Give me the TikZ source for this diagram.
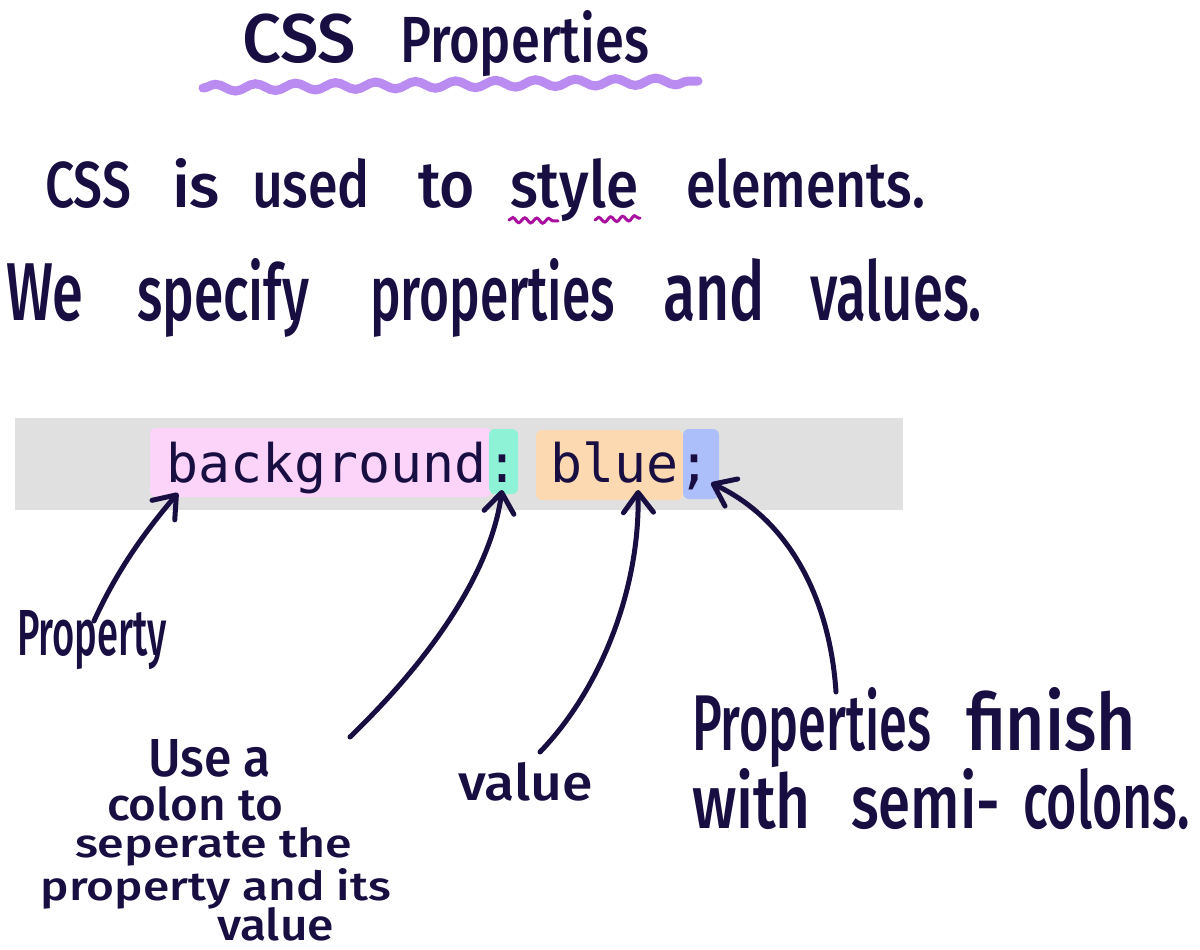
\documentclass[tikz,border=0pt]{standalone}
\usepackage{fontspec}
\usepackage{graphicx}
\setmainfont{Fira Sans}[UprightFont={* Medium}]
\newfontfamily\codefont{DejaVu Sans Mono}
\usetikzlibrary{arrows.meta,decorations.pathmorphing}
\definecolor{ink}{RGB}{24,14,66}
\definecolor{wavepurple}{RGB}{186,140,242}
\definecolor{wavemagenta}{RGB}{170,16,160}
\definecolor{bandgray}{RGB}{224,224,224}
\definecolor{hlpink}{RGB}{252,212,250}
\definecolor{hlteal}{RGB}{142,243,214}
\definecolor{hlorange}{RGB}{253,217,178}
\definecolor{hlblue}{RGB}{173,191,250}
\newcommand{\hwfit}[3]{\resizebox{#1pt}{#2pt}{#3}}
\newcommand{\hwword}[6]{\node[txt] (#1) at (#2,#3) {\hwfit{#4}{#5}{\vphantom{Cdl}#6}};}
\tikzset{
  txt/.style={anchor=base west, inner sep=0pt, outer sep=0pt, text=ink},
  arr/.style={draw=ink, line width=5pt, line cap=round, line join=round,
    -{Straight Barb[length=20pt,width=30pt,line width=5pt,line cap=round,line join=round]}},
  hl/.style={rounded corners=6pt},
  titlewave/.style={draw=wavepurple, line width=9pt, line cap=round,
    decorate, decoration={snake, amplitude=3.5pt, segment length=40pt}},
  stylewave/.style={draw=wavemagenta, line width=3pt, line cap=round,
    decorate, decoration={snake, amplitude=2.5pt, segment length=12pt}}
}
\begin{document}
\begin{tikzpicture}[x=1pt,y=-1pt]
\useasboundingbox[fill=white] (0,0) rectangle (1200,950);

% title
\hwword{tA}{242}{63}{114}{52}{CSS}
\hwword{tB}{400}{63}{249}{52}{Properties}
\coordinate (twL) at (203,88);
\coordinate (twR) at (698,81);
\draw[titlewave] (twL) -- (twR);

% intro line 1
\hwword{aA}{45}{207}{86}{49}{CSS}
\hwword{aB}{172}{207}{48}{49}{is}
\hwword{aC}{252}{207}{118}{49}{used}
\hwword{aD}{418}{207}{57}{49}{to}
\hwword{aE}{510}{207}{128}{49}{style}
\hwword{aF}{686}{207}{239}{49}{elements.}
\coordinate (swA) at (509,220);
\coordinate (swB) at (558,221);
\coordinate (swC) at (595,220);
\coordinate (swD) at (640,218);
\draw[stylewave] (swA) -- (swB);
\draw[stylewave] (swC) -- (swD);

% intro line 2
\hwword{bA}{6}{320}{77}{62}{We}
\hwword{bB}{137}{320}{172}{62}{specify}
\hwword{bC}{370}{320}{245}{62}{properties}
\hwword{bD}{663}{320}{102}{62}{and}
\hwword{bE}{810}{320}{172}{62}{values.}

% code band
\fill[bandgray] (15,418) rectangle (903,510);
\fill[hlpink,hl] (150,428) rectangle (491,497);
\fill[hlteal,hl] (489,429) rectangle (518,494);
\fill[hlorange,hl] (536,430) rectangle (683,500);
\fill[hlblue,hl] (683,429) rectangle (719,499);
\node[txt,font=\codefont\fontsize{53.2}{60}\selectfont] (code) at (166,482) {background:\ blue;};

% labels
\node[txt] (prop) at (17,655) {\hwfit{150}{45}{Property}};
\node[txt] (colA) at (148,776) {\hwfit{123}{37}{Use a}};
\node[txt] (colB) at (107,820) {\hwfit{176}{34}{colon to}};
\node[txt] (colC) at (75,857) {\hwfit{277}{30}{seperate the}};
\node[txt] (colD) at (41,900) {\hwfit{350}{32}{property and its}};
\node[txt] (colE) at (217,940) {\hwfit{117}{33}{value}};
\node[txt] (val) at (458,800) {\hwfit{135}{38}{value}};
\hwword{sA}{692}{750}{239}{63}{Properties}
\hwword{sB}{966}{750}{170}{63}{finish}
\hwword{sC}{692}{828}{119}{60}{with}
\hwword{sD}{851}{828}{149}{60}{semi-}
\hwword{sE}{1023}{828}{167}{60}{colons.}

% arrows
\coordinate (propFoot) at (94,621);
\coordinate (propTip) at (178,493);
\coordinate (colFoot) at (350,737);
\coordinate (colTip) at (502,490);
\coordinate (valFoot) at (540,752);
\coordinate (valTip) at (638,490);
\coordinate (semFoot) at (836,692);
\coordinate (semTip) at (711,483);
\draw[arr] (propFoot) .. controls (118,568) and (148,528) .. (propTip);
\draw[arr] (colFoot) .. controls (440,650) and (492,565) .. (colTip);
\draw[arr] (valFoot) .. controls (600,690) and (640,590) .. (valTip);
\draw[arr] (semFoot) .. controls (830,600) and (790,520) .. (semTip);
\end{tikzpicture}
\end{document}
